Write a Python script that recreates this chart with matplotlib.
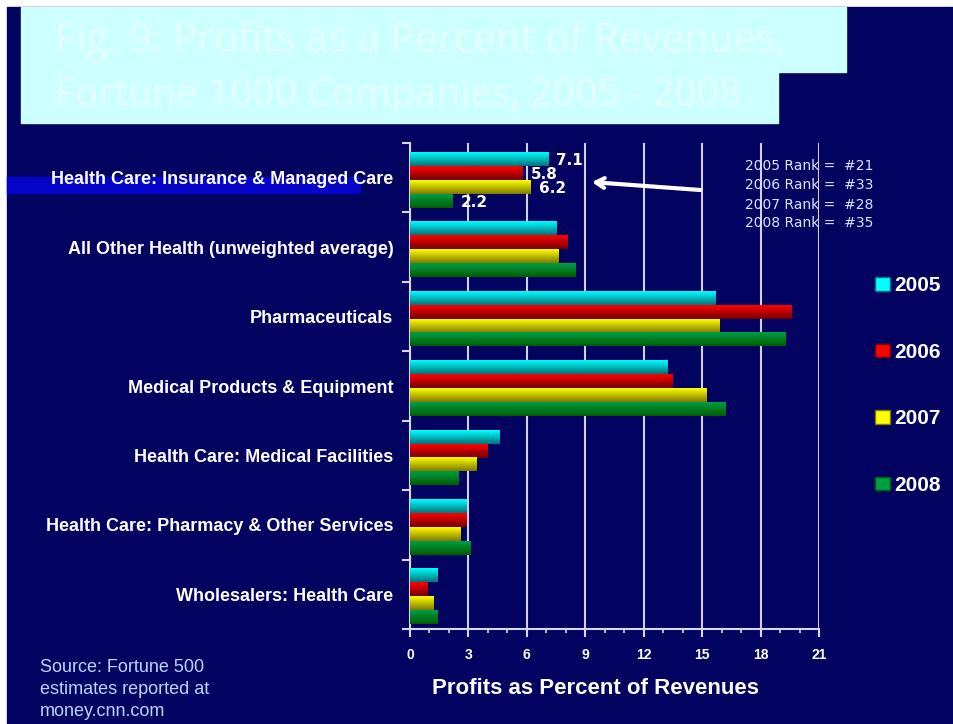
import matplotlib.pyplot as plt
import numpy as np
from matplotlib.patches import Rectangle, Patch

# ── data ────────────────────────────────────────────────
categories = ["Health Care: Insurance & Managed Care",
              "All Other Health (unweighted average)",
              "Pharmaceuticals",
              "Medical Products & Equipment",
              "Health Care: Medical Facilities",
              "Health Care: Pharmacy & Other Services",
              "Wholesalers: Health Care"]
years = ["2005", "2006", "2007", "2008"]
v2005 = [7.1, 7.5, 15.7, 13.2, 4.6, 2.9, 1.4]
v2006 = [5.8, 8.1, 19.6, 13.5, 4.0, 2.9, 0.9]
v2007 = [6.2, 7.6, 15.9, 15.2, 3.4, 2.6, 1.2]
v2008 = [2.2, 8.5, 19.3, 16.2, 2.5, 3.1, 1.4]
xticks = [0, 3, 6, 9, 12, 15, 18, 21]
ranks = ["2005 Rank =  #21", "2006 Rank =  #33", "2007 Rank =  #28", "2008 Rank =  #35"]

NAVY = "#020260"
TOP = [(0, 1, 1), (1, 0, 0), (1, 1, 0), (0, 0.62, 0.27)]
BOT = [(0, 0.45, 0.48), (0.45, 0, 0), (0.5, 0.48, 0), (0, 0.36, 0)]
NARROW = ["Liberation Sans Narrow", "Liberation Sans", "DejaVu Sans"]

W, H = 954, 724
def fx(px): return px / W
def fy(py): return 1 - py / H

fig = plt.figure(figsize=(9.54, 7.24), dpi=100, facecolor="white")

# slide background + title boxes
fig.add_artist(Rectangle((fx(7), -0.01), 1.02 - fx(7), fy(7) + 0.01, transform=fig.transFigure,
                         color=NAVY, zorder=-3))
fig.add_artist(Rectangle((fx(21), fy(72)), fx(846) - fx(21), fy(7) - fy(72),
                         transform=fig.transFigure, color="#ccffff", zorder=-2))
fig.add_artist(Rectangle((fx(21), fy(123)), fx(778) - fx(21), fy(72) - fy(123),
                         transform=fig.transFigure, color="#ccffff", zorder=-2))
fig.text(fx(55), fy(41), "Fig. 9: Profits as a Percent of Revenues,", color="white",
         fontsize=29, family="Open Sans", va="center", alpha=0.5)
fig.text(fx(55), fy(96), "Fortune 1000 Companies, 2005 - 2008", color="white",
         fontsize=28, family="Open Sans", va="center", alpha=0.5)
# highlight band behind first category label
fig.add_artist(Rectangle((fx(7), fy(193)), fx(360) - fx(7), fy(177) - fy(193),
                         transform=fig.transFigure, color="#0404c8", zorder=-1))

ax = fig.add_axes([fx(410), fy(629), fx(819) - fx(410), fy(143) - fy(629)])
ax.set_facecolor("none")

y = np.arange(len(categories))
offs = [-0.27, -0.07, 0.13, 0.33]
bh = 0.2
series = [v2005, v2006, v2007, v2008]

for i, vals in enumerate(series):
    bars = ax.barh(y + offs[i], vals, height=bh, color=TOP[i], zorder=2)
    t = np.linspace(0, 1, 40)[:, None, None]
    grad = np.array(TOP[i])[None, None, :] * (1 - t) + np.array(BOT[i])[None, None, :] * t
    for p in bars:
        x0, y0, w, h = p.get_x(), p.get_y(), p.get_width(), p.get_height()
        ax.imshow(grad, extent=(x0, x0 + w, y0 + h, y0), aspect="auto",
                  interpolation="bilinear", zorder=3)
    # value labels only on the first (highlighted) category
    ax.text(vals[0] + 0.4, offs[i] + 0.02, f"{vals[0]:.1f}", color="white",
            fontsize=11, fontweight="bold", va="center", zorder=5)

ax.set_xlim(0, 21)
ax.set_ylim(len(categories) - 0.5, -0.5)

ax.set_xticks(xticks)
ax.set_xticks(range(0, 22), minor=True)
ax.set_xticklabels([str(v) for v in xticks], family=NARROW, fontweight="bold",
                   fontsize=10, color="white")
ax.tick_params(axis="x", which="major", length=6, width=1.5, color="#d8d8e4", pad=8)
ax.tick_params(axis="x", which="minor", length=3, width=1.2, color="#d8d8e4")

ax.set_yticks(np.arange(-0.5, len(categories), 1))
ax.set_yticklabels([])
ax.set_yticks(y, minor=True)
ax.set_yticklabels(categories, minor=True, fontsize=13, fontweight="bold",
                   color="white", family="Liberation Sans")
ax.tick_params(axis="y", which="minor", length=0, pad=12)
ax.tick_params(axis="y", which="major", length=6, width=1.5, color="#d8d8e4")

ax.grid(axis="x", color="#d0d0dc", lw=1.5, zorder=1)
ax.set_axisbelow(True)
for s in ["top", "right"]:
    ax.spines[s].set_visible(False)
for s in ["left", "bottom"]:
    ax.spines[s].set_color("#d8d8e4")
    ax.spines[s].set_linewidth(1.5)

# arrow + rank note
ax.annotate("", xy=(9.2, 0.06), xytext=(15.05, 0.18),
            arrowprops=dict(arrowstyle="->,head_length=0.6,head_width=0.35",
                            color="white", lw=3), zorder=6)
for txt, py in zip(ranks, [166, 185, 205, 223]):
    fig.text(fx(745), fy(py), txt, fontsize=10, color="#d6e6ff", va="center",
             family="DejaVu Sans")

# legend
handles = [Patch(facecolor=TOP[i], edgecolor=BOT[i]) for i in range(4)]
fig.legend(handles, years, loc="upper left", bbox_to_anchor=(fx(865), fy(266)),
           frameon=False, prop=dict(size=15, weight="bold", family="Liberation Sans"),
           labelcolor="white", handlelength=0.7, handleheight=0.6,
           handletextpad=0.2, labelspacing=2.28, borderpad=0)

fig.text(fx(595), fy(688), "Profits as Percent of Revenues", color="white",
         fontsize=16, fontweight="bold", family=NARROW, ha="center", va="center")
for txt, py in zip(["Source: Fortune 500", "estimates reported at", "money.cnn.com"],
                   [667, 689, 711]):
    fig.text(fx(40), fy(py), txt, color="#bcd4ff", fontsize=13, family=NARROW,
             va="center")

fig.savefig("out.png", dpi=100, facecolor=fig.get_facecolor())
